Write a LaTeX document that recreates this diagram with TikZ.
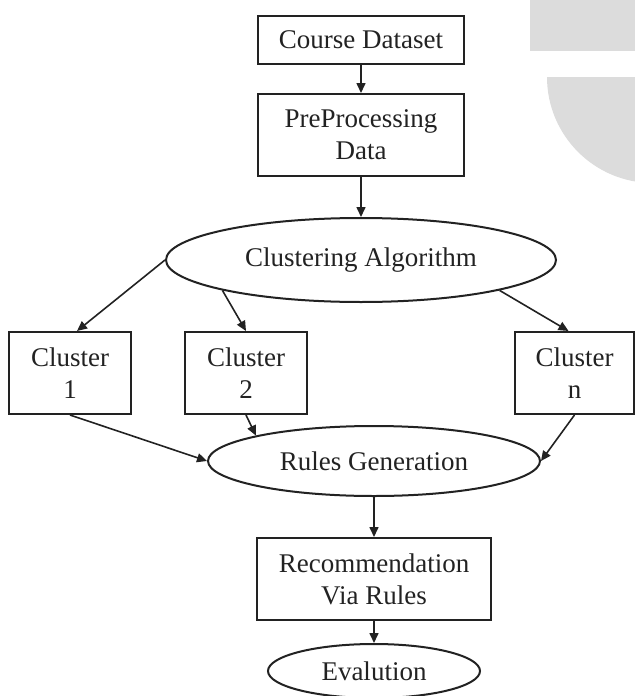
\documentclass[tikz,border=0pt]{standalone}
\usepackage{fontspec}
\setmainfont{Liberation Serif}
\usetikzlibrary{shapes.geometric, arrows.meta, positioning}
\definecolor{markgray}{HTML}{DCDCDC}
\definecolor{inkgray}{HTML}{222222}

\begin{document}
\begin{tikzpicture}[
    x=0.5pt, y=-0.5pt,
    font=\fontsize{13.5pt}{16pt}\selectfont,
    block/.style={rectangle, draw=inkgray, text=inkgray, line width=1pt, align=center, inner sep=2pt},
    oval/.style={ellipse, draw=inkgray, text=inkgray, fill=white, line width=1pt, inner sep=0pt},
    arrow/.style={-{Triangle[length=5pt, width=4.5pt]}, line width=0.8pt, draw=inkgray}
]
    \useasboundingbox (0,0) rectangle (635,696);
    % faded shapes at the top right
    \begin{scope}
        \clip (0,0) rectangle (635,696);
        \fill[markgray] (530,0) rectangle (635,51);
        \fill[markgray] (547,77) arc[start angle=180, end angle=90, radius=106] -- (653,77) -- cycle;
    \end{scope}

    \node[block, minimum width=103pt, minimum height=24pt] (data) at (361,40) {Course Dataset};
    \node[block, minimum width=103pt, minimum height=41pt, below=14pt of data] (prep) {PreProcessing\\Data};
    \node[oval, minimum width=195pt, minimum height=42pt, below=20pt of prep] (clus) {Clustering Algorithm};

    \node[block, minimum width=61pt, minimum height=41pt] (c1) at (70,373) {Cluster\\1};
    \node[block, minimum width=61pt, minimum height=41pt] (c2) at (246,373) {Cluster\\2};
    \node[block, minimum width=59.5pt, minimum height=41pt] (cn) at (574.5,373) {Cluster\\n};

    \node[oval, minimum width=166pt, minimum height=35pt] (rules) at (374,461) {Rules Generation};
    \node[block, minimum width=117pt, minimum height=41pt, below=20pt of rules] (rec) {Recommendation\\Via Rules};
    \node[oval, minimum width=106pt, minimum height=27pt, below=11pt of rec] (eval) {Evalution};

    \draw[arrow] (data) -- (prep);
    \draw[arrow] (prep) -- (clus);
    \draw[arrow] (clus.west) -- ([xshift=3.5pt]c1.north);
    \draw[arrow] (clus.south west) -- (c2.north);
    \draw[arrow] (clus.south east) -- ([xshift=-3pt]cn.north);
    \draw[arrow] (c1.south) -- (rules.west);
    \draw[arrow] (c2.south) -- (rules.north west);
    \draw[arrow] (cn.south) -- (rules.east);
    \draw[arrow] (rules) -- (rec);
    \draw[arrow] (rec) -- (eval);
\end{tikzpicture}
\end{document}
